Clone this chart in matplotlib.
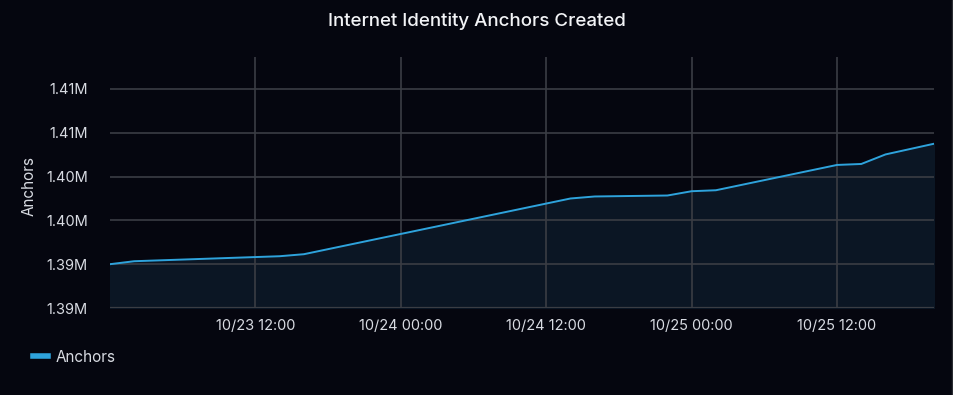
import datetime as dt
import matplotlib
matplotlib.use("Agg")
import matplotlib.pyplot as plt
import matplotlib.dates as mdates
from matplotlib.patches import Rectangle

# hourly snapshots of the anchor counter
hours = [0, 2, 14, 16, 38, 40, 46, 48, 50, 60, 62, 64, 68]
anchors = [1390000, 1390340, 1390910, 1391140, 1397500, 1397730, 1397840,
           1398330, 1398440, 1401330, 1401440, 1402530, 1403750]

y_ticks = [1385000, 1390000, 1395000, 1400000, 1405000, 1410000]
y_labels = ["1.39M", "1.39M", "1.40M", "1.40M", "1.41M", "1.41M"]
x_tick_hours = [12, 24, 36, 48, 60]

start = dt.datetime(2023, 10, 23, 0, 0)
times = [start + dt.timedelta(hours=h) for h in hours]
x_ticks = [start + dt.timedelta(hours=h) for h in x_tick_hours]

BG = "#05060f"
GRID = "#3a3d44"
LINE = "#2ea3dc"
FILL = "#0b1624"
TEXT = "#d8dbe2"

plt.rcParams["font.family"] = ["Inter", "DejaVu Sans"]

fig = plt.figure(figsize=(9.54, 3.95), dpi=100, facecolor=BG)
ax = fig.add_axes([110 / 954, 1 - 308 / 395, 824 / 954, 251 / 395])
ax.set_facecolor(BG)

ax.fill_between(times, y_ticks[0], anchors, color=FILL, zorder=1)
ax.plot(times, anchors, color=LINE, linewidth=1.4, zorder=3, label="Anchors")

ax.set_xlim(times[0], times[-1])
ax.set_ylim(1385000, 1413650)
ax.set_yticks(y_ticks)
ax.set_yticklabels(y_labels)
ax.set_xticks(x_ticks)
ax.xaxis.set_major_formatter(mdates.DateFormatter("%m/%d %H:%M"))

ax.grid(True, color=GRID, linewidth=1.2, zorder=2)
for s in ax.spines.values():
    s.set_visible(False)
ax.axhline(y_ticks[0], color=GRID, linewidth=1.6, zorder=2)

ax.tick_params(axis="both", colors=TEXT, labelsize=10.5, length=0)
ax.tick_params(axis="y", pad=16)
ax.tick_params(axis="x", pad=8)

fig.text(29 / 954, 1 - 186 / 395, "Anchors", color=TEXT, fontsize=11,
         rotation=90, ha="center", va="center")
fig.text(0.5, 1 - 21 / 395, "Internet Identity Anchors Created", color="#f2f3f6",
         fontsize=13.5, fontweight="medium", ha="center", va="center")

leg = fig.legend(loc="center left", bbox_to_anchor=(19 / 954, 1 - 357 / 395),
                 frameon=False, fontsize=11, handlelength=1.0, handletextpad=0.5)
for t in leg.get_texts():
    t.set_color(TEXT)
for h in leg.get_lines():
    h.set_linewidth(4)

# faint frame edge on the right
fig.patches.append(Rectangle((952 / 954, 0), 2 / 954, 1, transform=fig.transFigure,
                             color="#2a2c33", zorder=0))

fig.savefig("out.png", dpi=100, facecolor=BG)
